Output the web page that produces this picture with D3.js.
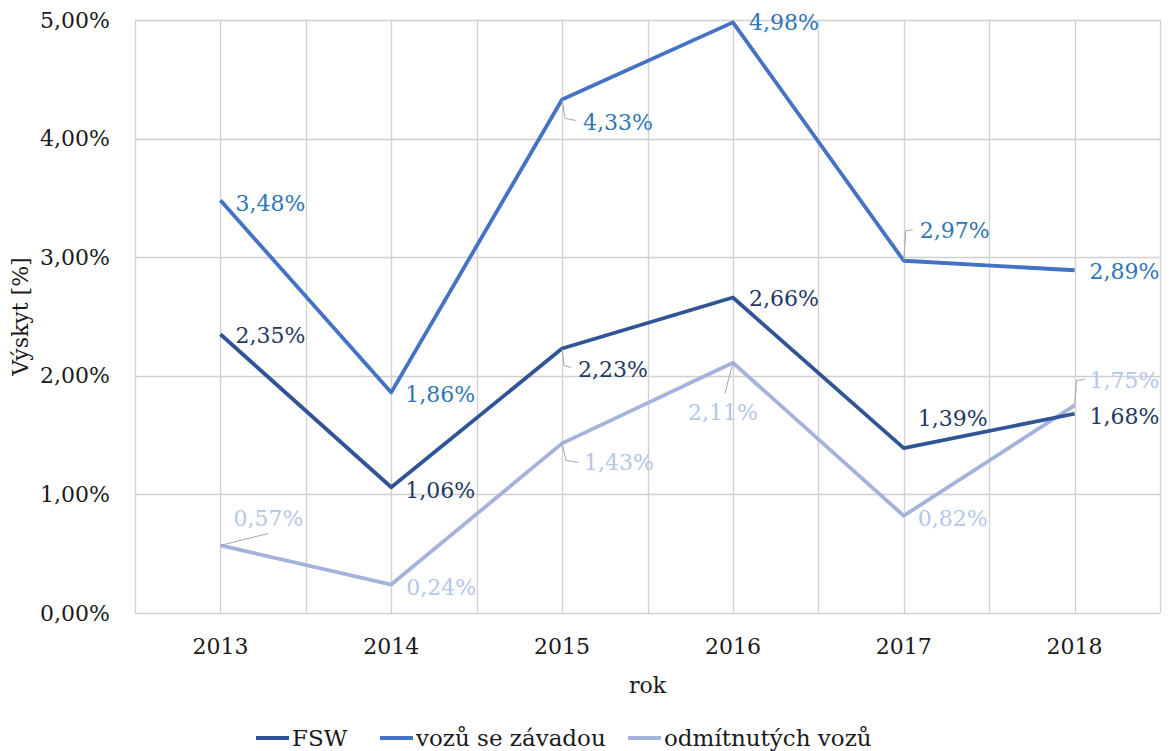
<!DOCTYPE html>
<html>
<head>
<meta charset="utf-8">
<script src="https://cdn.jsdelivr.net/npm/d3@7"></script>
<style>
	body { margin: 0; background: #fff; }
	svg text { font-family: "DejaVu Serif", serif; }
</style>
</head>
<body>
<svg id="chart" width="1172" height="751"></svg>
<script>
var years = ["2013", "2014", "2015", "2016", "2017", "2018"];
var yTicks = [0, 1, 2, 3, 4, 5];
var fsw = [2.35, 1.06, 2.23, 2.66, 1.39, 1.68];
var vozu = [3.48, 1.86, 4.33, 4.98, 2.97, 2.89];
var odmitnutych = [0.57, 0.24, 1.43, 2.11, 0.82, 1.75];
var seriesNames = ["FSW", "vozů se závadou", "odmítnutých vozů"];

// label offsets from the point (dx, dy to the text centre line)
var labelOffsets = {
	"FSW": [[15, 1], [14, 3], [16, 21], [16, 1], [14, -30], [15, 3]],
	"vozů se závadou": [[15, 3], [14, 2], [21, 23], [16, 0], [16, -30], [15, 1]],
	"odmítnutých vozů": [[13, -27], [15, 3], [22, 19], [-45, 50], [14, 3], [15, -25]]
};

var colors = ["#2f5597", "#4472c4", "#a5b3da"];
var labelColors = ["#1f3864", "#2e75b6", "#b4c7e7"];

var margin = {top: 20, right: 12, bottom: 138, left: 135};
var svg = d3.select("#chart"),
	width = 1172 - margin.left - margin.right,
	height = 751 - margin.top - margin.bottom;

var x = d3.scaleBand().domain(years).range([0, width]);
var y = d3.scaleLinear().domain([0, 5]).range([height, 0]);

var g = svg.append("g").attr("transform", "translate(" + margin.left + "," + margin.top + ")");

// grid: horizontal at ticks, vertical at band edges and band centres
var grid = g.append("g").attr("class", "grid");
yTicks.forEach(function(t) {
	grid.append("line")
		.attr("x1", 0).attr("x2", width)
		.attr("y1", Math.round(y(t)) + 0.5).attr("y2", Math.round(y(t)) + 0.5)
		.style("stroke", "#d0d0d0").style("stroke-width", 1.3);
});
var vLines = [];
years.forEach(function(yr) {
	vLines.push(x(yr));
	vLines.push(x(yr) + x.bandwidth() / 2);
});
vLines.push(width);
vLines.forEach(function(v) {
	grid.append("line")
		.attr("x1", Math.round(v) + 0.5).attr("x2", Math.round(v) + 0.5)
		.attr("y1", 0).attr("y2", height)
		.style("stroke", "#d0d0d0").style("stroke-width", 1.3);
});

// axes
var yAxis = g.append("g")
	.call(d3.axisLeft(y).tickValues(yTicks).tickSize(0).tickPadding(25)
		.tickFormat(function(d) { return d3.format(".2f")(d).replace(".", ",") + "%"; }));
yAxis.select(".domain").remove();
yAxis.selectAll("text").style("font-size", "22px").style("fill", "#1a1a1a");

var xAxis = g.append("g")
	.attr("transform", "translate(0," + height + ")")
	.call(d3.axisBottom(x).tickSize(0).tickPadding(25));
xAxis.select(".domain").remove();
xAxis.selectAll("text").style("font-size", "22px").style("fill", "#1a1a1a");

g.append("text")
	.attr("x", width / 2).attr("y", height + 80)
	.attr("text-anchor", "middle")
	.style("font-size", "22px").style("fill", "#1a1a1a")
	.text("rok");

g.append("text")
	.attr("transform", "translate(" + (-107) + "," + (height / 2) + ") rotate(-90)")
	.attr("text-anchor", "middle")
	.style("font-size", "22px").style("fill", "#1a1a1a")
	.text("Výskyt [%]");

// lines
var series = [fsw, vozu, odmitnutych];
var line = d3.line()
	.x(function(d, i) { return x(years[i]) + x.bandwidth() / 2; })
	.y(function(d) { return y(d); });

// draw light series first so the darker ones sit on top
[2, 1, 0].forEach(function(s) {
	g.append("path")
		.datum(series[s])
		.attr("d", line)
		.style("fill", "none")
		.style("stroke", colors[s])
		.style("stroke-width", 3.8)
		.style("stroke-linejoin", "round");
});

// data labels
series.forEach(function(values, s) {
	values.forEach(function(v, i) {
		var px = x(years[i]) + x.bandwidth() / 2;
		var py = y(v);
		var off = labelOffsets[seriesNames[s]][i];
		g.append("text")
			.attr("x", px + off[0]).attr("y", py + off[1])
			.attr("dy", "0.35em")
			.style("font-size", "22px")
			.style("fill", labelColors[s])
			.text(d3.format(".2f")(v).replace(".", ",") + "%");
	});
});

// leader lines (point to label) for the labels excel moved away
var leaders = [
	[1, 2, [[3, 19], [14, 21]]],
	[0, 2, [[2, 17], [9, 19]]],
	[2, 2, [[4, 17], [16, 19]]],
	[2, 3, [[-8, 31]]],
	[2, 0, [[48, -12]]],
	[1, 4, [[2, -30], [9, -31]]],
	[2, 5, [[2, -25], [10, -26]]]
];
leaders.forEach(function(l) {
	var s = l[0], i = l[1];
	var px = x(years[i]) + x.bandwidth() / 2;
	var py = y(series[s][i]);
	var pts = [[px, py]].concat(l[2].map(function(p) { return [px + p[0], py + p[1]]; }));
	g.append("path")
		.attr("d", d3.line()(pts))
		.style("fill", "none")
		.style("stroke", "#a6a6a6")
		.style("stroke-width", 1);
});

// legend
var legendX = [256, 380, 628];
var legend = svg.append("g");
seriesNames.forEach(function(name, s) {
	legend.append("line")
		.attr("x1", legendX[s]).attr("x2", legendX[s] + 33)
		.attr("y1", 738).attr("y2", 738)
		.style("stroke", colors[s]).style("stroke-width", 3.8);
	legend.append("text")
		.attr("x", legendX[s] + 36).attr("y", 738)
		.attr("dy", "0.35em")
		.style("font-size", "23px").style("fill", "#1a1a1a")
		.text(name);
});
</script>
</body>
</html>
